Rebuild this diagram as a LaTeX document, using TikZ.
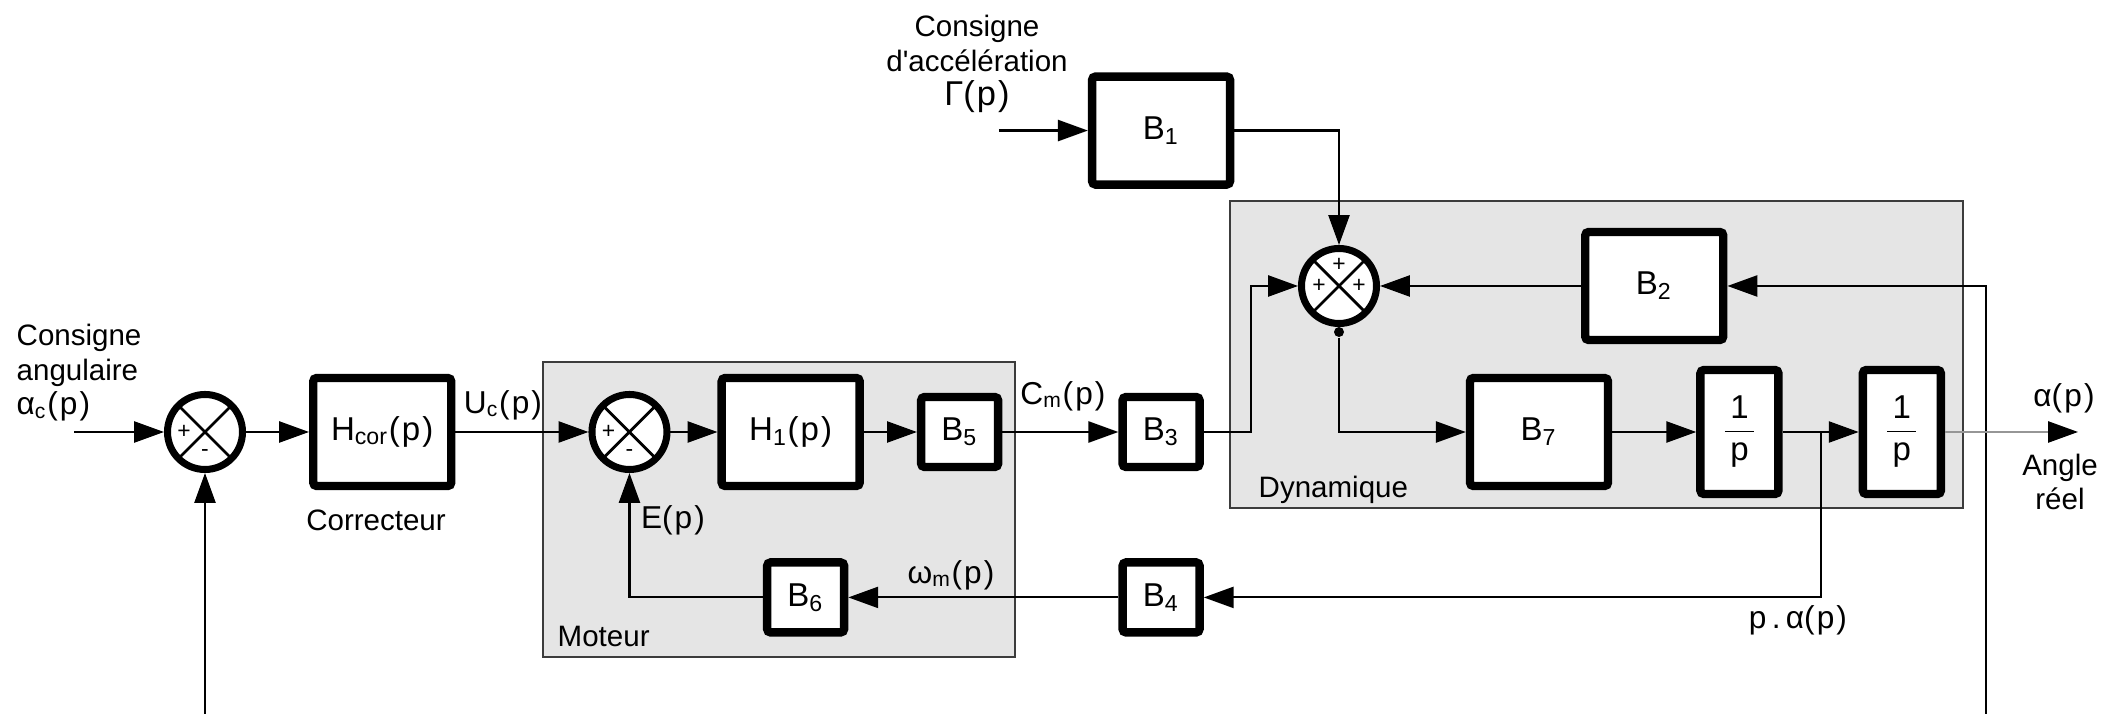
\documentclass[tikz,border=0pt]{standalone}
\usepackage{amsmath}
\usepackage{fontspec}
\setmainfont{Liberation Sans}
\usepackage{tikz}
\usetikzlibrary{arrows.meta, positioning, calc}
\definecolor{groupfill}{RGB}{229,229,229}
\definecolor{groupline}{RGB}{60,60,60}
\definecolor{outline}{RGB}{150,150,150}
\newcommand{\lblfont}{\fontsize{8.4}{9.8}\selectfont}
\newcommand{\blkfont}{\fontsize{9.4}{11}\selectfont}
\newcommand{\ofp}{(\kern0.6pt p\kern0.6pt)}
\tikzset{
  block/.style={
    rectangle, rounded corners=1pt, draw, line width=2.4pt,
    fill=white, inner sep=0pt, text centered, font=\blkfont
  },
  big/.style={block, minimum width=1.38cm, minimum height=1.08cm},
  sml/.style={block, minimum width=0.77cm, minimum height=0.70cm},
  integ/.style={block, minimum width=0.78cm, minimum height=1.24cm},
  sum/.style={circle, draw, line width=2pt, fill=white,
    minimum size=0.75cm, inner sep=0pt,
    path picture={\draw[line width=0.8pt]
      (path picture bounding box.north west) -- (path picture bounding box.south east)
      (path picture bounding box.north east) -- (path picture bounding box.south west);}},
  sgn/.style={font=\fontsize{6.5}{7}\selectfont, inner sep=0pt},
  dot/.style={circle, fill, inner sep=0pt, minimum size=0.1cm},
  arr/.style={-{Triangle[length=8.5pt, width=6pt]}, line width=0.6pt},
  outarr/.style={-{Triangle[length=8.5pt, width=6pt, color=black]},
    line width=0.6pt, draw=outline},
  grp/.style={fill=groupfill, draw=groupline, line width=0.8pt},
  lbl/.style={font=\lblfont, inner sep=0pt},
  sig/.style={font=\fontsize{9}{10.5}\selectfont, inner sep=0pt}
}

\begin{document}
\begin{tikzpicture}[node distance=0.6cm and 0.6cm]
  \useasboundingbox (0,0) rectangle (21.21,-7.14);

  \draw[grp] (5.43,-3.62) rectangle (10.15,-6.57);
  \draw[grp] (12.30,-2.01) rectangle (19.63,-5.08);
  \node[lbl, anchor=west] (moteur) at (5.57,-6.36) {Moteur};
  \node[lbl, anchor=west] (dyn)    at (12.58,-4.90) {Dynamique};

  \node[sum] (s1) at (2.05,-4.32) {};
  \node[big, right=0.63cm of s1]  (hcor) {H\textsubscript{cor}\ofp};
  \node[sum, right=1.33cm of hcor] (s2) {};
  \node[big, right=0.47cm of s2]  (h1) {H\textsubscript{1}\ofp};
  \node[sml, right=0.53cm of h1]  (b5) {B\textsubscript{5}};
  \node[sml, right=1.16cm of b5]  (b3) {B\textsubscript{3}};
  \node[big, right=2.62cm of b3]  (b7) {B\textsubscript{7}};
  \node[integ, right=0.84cm of b7] (i1) {$\dfrac{\,\text{1}\,}{\,\text{p}\,}$};
  \node[integ, right=0.76cm of i1] (i2) {$\dfrac{\,\text{1}\,}{\,\text{p}\,}$};
  \node[sum] (s3) at (13.39,-2.86) {};
  \node[big, right=2.01cm of s3]  (b2) {B\textsubscript{2}};
  \node[big, above=2.04cm of b3]  (b1) {B\textsubscript{1}};
  \node[sml, below=0.87cm of b3]  (b4) {B\textsubscript{4}};
  \node[sml, left=2.7cm of b4]    (b6) {B\textsubscript{6}};

  \node[sgn] (s1p) at ([xshift=-0.21cm]s1.center) {+};
  \node[sgn] (s1m) at ([yshift=-0.21cm]s1.center) {-};
  \node[sgn] (s2p) at ([xshift=-0.21cm]s2.center) {+};
  \node[sgn] (s2m) at ([yshift=-0.21cm]s2.center) {-};
  \node[sgn] (s3t) at ([yshift=0.21cm]s3.center) {+};
  \node[sgn] (s3l) at ([xshift=-0.2cm]s3.center) {+};
  \node[sgn] (s3r) at ([xshift=0.2cm]s3.center) {+};
  \node[dot] (s3dot) at ([yshift=-0.05cm]s3.south) {};

  \coordinate (inA)  at (0.74,-4.32);
  \coordinate (inG)  at ($(b1.west)+(-0.89,0)$);
  \coordinate (botL) at (2.05,-7.14);
  \coordinate (botR) at (19.86,-7.14);
  \coordinate (out)  at (20.78,-4.32);
  \coordinate (knee) at ($(b3.east)+(0.47,0)$);
  \coordinate (tap)  at ($(i1.east)!0.5!(i2.west)$);

  \draw[arr] (inA)  -- (s1);
  \draw[arr] (s1)   -- (hcor);
  \draw[arr] (hcor) -- (s2);
  \draw[arr] (s2)   -- (h1);
  \draw[arr] (h1)   -- (b5);
  \draw[arr] (b5)   -- (b3);
  \draw[arr] (b3.east) -- (knee) |- (s3.west);
  \draw[arr] (inG)  -- (b1);
  \draw[arr] (b1.east) -| (s3.north);
  \draw[arr] (b2)   -- (s3);
  \draw[arr] (botR) |- (b2.east);
  \draw[arr] (s3dot) |- (b7.west);
  \draw[arr] (b7)   -- (i1);
  \draw[arr] (i1)   -- (i2);
  \draw[arr] (tap)  |- (b4.east);
  \draw[arr] (b4)   -- (b6);
  \draw[arr] (b6.west) -| (s2.south);
  \draw[arr] (botL) -- (s1.south);
  \draw[outarr] (i2) -- (out);

  \node[lbl, align=left, anchor=west] (alc) at (0.16,-3.73)
    {Consigne\\angulaire\\{\fontsize{9}{9.8}\selectfont α\textsubscript{c}\ofp}};
  \node[lbl, align=center] (gam) at (9.77,-0.64)
    {Consigne\\d\textquotesingle accélération\\{\fontsize{9.8}{9.8}\selectfont Γ\ofp}};
  \node[lbl] (corr) at (3.76,-5.20) {Correcteur};
  \node[sig] (uc)   at (5.03,-4.05) {U\textsubscript{c}\ofp};
  \node[sig] (cm)   at (10.63,-3.96) {C\textsubscript{m}\ofp};
  \node[sig] (ep)   at (6.73,-5.20) {E\ofp};
  \node[sig] (wm)   at (9.51,-5.75) {ω\textsubscript{m}\ofp};
  \node[sig] (alp)  at (20.64,-3.98) {α\ofp};
  \node[lbl, align=center] (angle) at (20.60,-4.82) {Angle\\réel};
  \node[sig] (palp) at (17.98,-6.20) {p\,.\,α\ofp};
\end{tikzpicture}
\end{document}
